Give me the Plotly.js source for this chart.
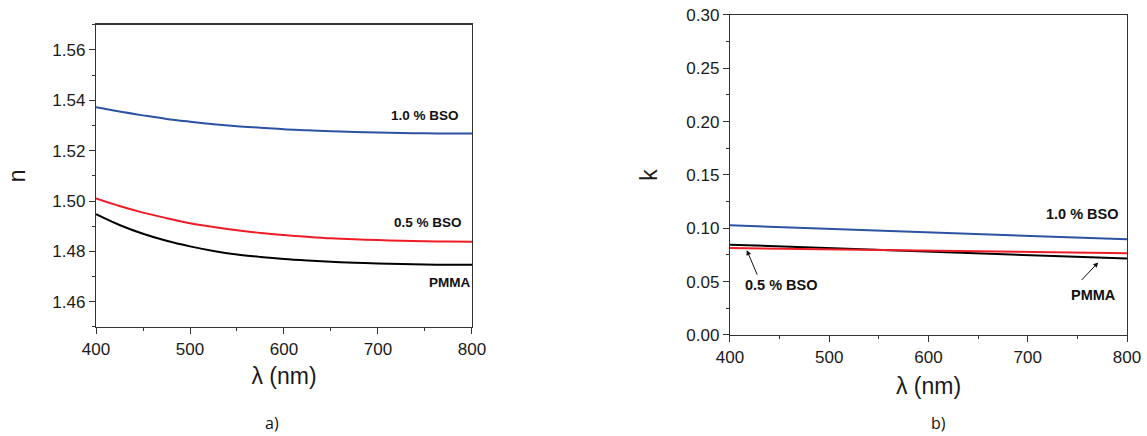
<!DOCTYPE html>
<html>
<head>
<meta charset="utf-8">
<script src="https://cdn.plot.ly/plotly-3.0.1.min.js"></script>
<style>html,body{margin:0;padding:0;background:#fff;}#chart{width:1147px;height:436px;}</style>
</head>
<body>
<div id="chart"></div>
<script>
// Wavelength (nm)
const wavelength = [400, 425, 450, 475, 500, 525, 550, 575, 600, 625, 650, 675, 700, 725, 750, 775, 800];

// Panel a) refractive index n
const nBSO10 = [1.5372, 1.5355, 1.5340, 1.5326, 1.5315, 1.5305, 1.5297, 1.5291, 1.5285, 1.5281, 1.5277, 1.5274, 1.5272, 1.5270, 1.5269, 1.5268, 1.5268];
const nBSO05 = [1.5010, 1.4980, 1.4954, 1.4932, 1.4912, 1.4897, 1.4884, 1.4873, 1.4865, 1.4858, 1.4852, 1.4848, 1.4845, 1.4842, 1.4840, 1.4839, 1.4838];
const nPMMA  = [1.4948, 1.4905, 1.4870, 1.4842, 1.4820, 1.4802, 1.4788, 1.4778, 1.4770, 1.4764, 1.4759, 1.4755, 1.4752, 1.4750, 1.4748, 1.4747, 1.4747];

// Panel b) extinction coefficient k
const kWavelength = [400, 500, 600, 700, 800];
const kBSO10 = [0.1028, 0.0995, 0.0962, 0.0930, 0.0897];
const kBSO05 = [0.0816, 0.0804, 0.0791, 0.0778, 0.0766];
const kPMMA  = [0.0847, 0.0814, 0.0781, 0.0749, 0.0716];

const seriesNames = ['1.0 % BSO', '0.5 % BSO', 'PMMA'];
const colors = ['#2b52a3', '#ee1d25', '#000000'];

const traces = [
  {x: wavelength, y: nBSO10, name: seriesNames[0], xaxis: 'x', yaxis: 'y', line: {color: colors[0], width: 2, shape: 'spline'}},
  {x: wavelength, y: nBSO05, name: seriesNames[1], xaxis: 'x', yaxis: 'y', line: {color: colors[1], width: 2, shape: 'spline'}},
  {x: wavelength, y: nPMMA,  name: seriesNames[2], xaxis: 'x', yaxis: 'y', line: {color: colors[2], width: 2, shape: 'spline'}},
  {x: kWavelength, y: kBSO10, name: seriesNames[0], xaxis: 'x2', yaxis: 'y2', line: {color: colors[0], width: 2}},
  {x: kWavelength, y: kPMMA,  name: seriesNames[2], xaxis: 'x2', yaxis: 'y2', line: {color: colors[2], width: 2}},
  {x: kWavelength, y: kBSO05, name: seriesNames[1], xaxis: 'x2', yaxis: 'y2', line: {color: colors[1], width: 2}}
].map(t => Object.assign({type: 'scatter', mode: 'lines', showlegend: false, hoverinfo: 'skip'}, t));

const tickFont = {family: 'Liberation Sans, Arial, sans-serif', size: 17, color: '#1a1a1a'};
const titleFont = {family: 'Liberation Sans, Arial, sans-serif', size: 23, color: '#1a1a1a'};

function xAx(domain, anchor, standoff) {
  return {
    domain: domain, anchor: anchor, range: [400, 800], dtick: 100, tick0: 400,
    ticks: 'outside', ticklen: 6, tickwidth: 1, tickcolor: '#333',
    minor: {ticks: 'outside', ticklen: 3, dtick: 50, tickcolor: '#333', showgrid: false},
    showline: true, linecolor: '#333', linewidth: 1.2, mirror: true,
    showgrid: false, zeroline: false, tickfont: tickFont,
    title: {text: 'λ (nm)', font: titleFont, standoff: standoff}
  };
}

const layout = {
  width: 1147, height: 436,
  margin: {l: 0, r: 0, t: 0, b: 0},
  paper_bgcolor: '#fff', plot_bgcolor: '#fff',
  xaxis: xAx([0.0837, 0.4115], 'y', 10),
  xaxis2: xAx([0.6364, 0.9826], 'y2', 12),
  yaxis: {
    domain: [0.25, 0.9434], anchor: 'x', range: [1.45, 1.57], dtick: 0.02, tick0: 1.46,
    tickformat: '.2f',
    ticks: 'outside', ticklen: 6, tickwidth: 1, tickcolor: '#333',
    minor: {ticks: 'outside', ticklen: 3, dtick: 0.01, tickcolor: '#333', showgrid: false},
    showline: true, linecolor: '#333', linewidth: 1.2, mirror: true,
    showgrid: false, zeroline: false, tickfont: tickFont,
    title: {text: 'n', font: titleFont, standoff: 20}
  },
  yaxis2: {
    domain: [0.2317, 0.9656], anchor: 'x2', range: [0, 0.30], dtick: 0.05, tick0: 0,
    tickformat: '.2f',
    ticks: 'outside', ticklen: 6, tickwidth: 1, tickcolor: '#333',
    minor: {ticks: 'outside', ticklen: 3, dtick: 0.025, tickcolor: '#333', showgrid: false},
    showline: true, linecolor: '#333', linewidth: 1.2, mirror: true,
    showgrid: false, zeroline: false, tickfont: tickFont,
    title: {text: 'k', font: titleFont, standoff: 22}
  },
  annotations: []
};

const lblFontL = {family: 'Liberation Sans, Arial, sans-serif', size: 13.5, color: '#111', weight: 'bold'};
const lblFontR = {family: 'Liberation Sans, Arial, sans-serif', size: 14.5, color: '#111', weight: 'bold'};
function lbl(text, x, y, xref, yref, font) {
  return {text: '<b>' + text + '</b>', x: x, y: y, xref: xref, yref: yref, showarrow: false,
          xanchor: 'center', yanchor: 'middle', font: font};
}
layout.annotations.push(
  lbl(seriesNames[0], 750, 1.5339, 'x', 'y', lblFontL),
  lbl(seriesNames[1], 753, 1.4913, 'x', 'y', lblFontL),
  lbl(seriesNames[2], 776, 1.4676, 'x', 'y', lblFontL),
  lbl(seriesNames[0], 755, 0.1134, 'x2', 'y2', lblFontR),
  lbl(seriesNames[1], 452, 0.0469, 'x2', 'y2', lblFontR),
  lbl(seriesNames[2], 766, 0.0375, 'x2', 'y2', lblFontR),
  {text: '', x: 417, y: 0.0795, xref: 'x2', yref: 'y2', showarrow: true, arrowhead: 2, arrowsize: 1,
   arrowwidth: 1, arrowcolor: '#111', ax: 11, ay: 26, standoff: 0},
  {text: '', x: 771, y: 0.068, xref: 'x2', yref: 'y2', showarrow: true, arrowhead: 2, arrowsize: 1,
   arrowwidth: 1, arrowcolor: '#111', ax: -18, ay: 19, standoff: 0},
  {text: 'a)', x: 272 / 1147, y: 1 - 423 / 436, xref: 'paper', yref: 'paper', showarrow: false,
   xanchor: 'center', yanchor: 'middle', font: {family: 'Open Sans, sans-serif', size: 16, color: '#111'}},
  {text: 'b)', x: 938 / 1147, y: 1 - 423 / 436, xref: 'paper', yref: 'paper', showarrow: false,
   xanchor: 'center', yanchor: 'middle', font: {family: 'Open Sans, sans-serif', size: 16, color: '#111'}}
);

Plotly.newPlot('chart', traces, layout, {displayModeBar: false, staticPlot: true});
</script>
</body>
</html>
